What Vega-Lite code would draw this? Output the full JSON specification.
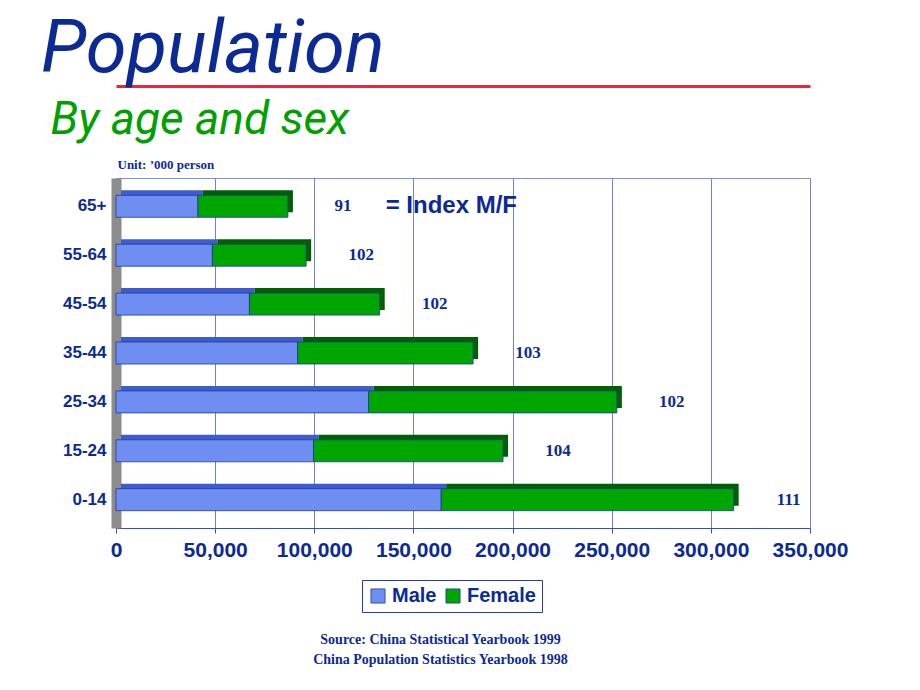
{
  "$schema": "https://vega.github.io/schema/vega-lite/v6.json",
  "width": 694,
  "height": 350,
  "autosize": {"type": "none"},
  "padding": {"left": 116, "top": 178, "right": 110, "bottom": 162},
  "background": "white",
  "title": {
    "text": "Population",
    "anchor": "start",
    "frame": "group",
    "orient": "top",
    "font": "Roboto",
    "fontStyle": "italic",
    "fontWeight": "normal",
    "fontSize": 74,
    "color": "#0c2a96",
    "dx": -75,
    "dy": 2,
    "offset": 0
  },
  "config": {
    "view": {"stroke": "#8090e0", "strokeWidth": 1}
  },
  "data": {
    "values": [
      {"age": "65+", "sex": "Male", "value": 41300, "index": 91},
      {"age": "65+", "sex": "Female", "value": 45400, "index": 91},
      {"age": "55-64", "sex": "Male", "value": 48600, "index": 102},
      {"age": "55-64", "sex": "Female", "value": 47300, "index": 102},
      {"age": "45-54", "sex": "Male", "value": 67300, "index": 102},
      {"age": "45-54", "sex": "Female", "value": 65700, "index": 102},
      {"age": "35-44", "sex": "Male", "value": 91600, "index": 103},
      {"age": "35-44", "sex": "Female", "value": 88500, "index": 103},
      {"age": "25-34", "sex": "Male", "value": 127400, "index": 102},
      {"age": "25-34", "sex": "Female", "value": 125200, "index": 102},
      {"age": "15-24", "sex": "Male", "value": 99600, "index": 104},
      {"age": "15-24", "sex": "Female", "value": 95600, "index": 104},
      {"age": "0-14", "sex": "Male", "value": 164000, "index": 111},
      {"age": "0-14", "sex": "Female", "value": 147500, "index": 111}
    ]
  },
  "encoding": {
    "y": {
      "field": "age", "type": "nominal",
      "sort": ["65+", "55-64", "45-54", "35-44", "25-34", "15-24", "0-14"],
      "scale": {"paddingInner": 0.55, "paddingOuter": 0.354},
      "axis": {
        "ticks": false, "labelPadding": 10,
        "domainColor": "#8c8c8c", "domainWidth": 10,
        "labelFont": "Liberation Sans", "labelFontWeight": "bold", "labelFontSize": 17,
        "labelColor": "#0c2a96",
        "title": "Unit: ’000 person",
        "titleAngle": 0, "titleX": 1, "titleY": -10, "titleAlign": "left",
        "titleAnchor": "start",
        "titleBaseline": "alphabetic",
        "titleFont": "Liberation Serif", "titleFontWeight": "bold", "titleFontSize": 13,
        "titleColor": "#0c2a96"
      }
    }
  },
  "resolve": {"axis": {"x": "independent"}},
  "layer": [
    {
      "mark": {"type": "bar", "xOffset": 5, "yOffset": -5},
      "encoding": {
        "x": {
          "field": "value", "type": "quantitative", "stack": "zero",
          "scale": {"domain": [0, 350000], "nice": false},
          "axis": {
            "orient": "top", "offset": 92, "domainColor": "#e8283c", "domainWidth": 3,
            "labels": false, "ticks": false, "grid": false,
            "title": "By age and sex",
            "titleX": -66, "titleY": 47, "titleAlign": "left", "titleAnchor": "start",
            "titleBaseline": "alphabetic",
            "titleFont": "Roboto", "titleFontStyle": "italic", "titleFontWeight": "normal",
            "titleFontSize": 46, "titleColor": "#00a000"
          }
        },
        "detail": {"field": "sex"},
        "order": {"field": "sex", "sort": "descending"},
        "color": {
          "condition": {"test": "datum.sex === 'Male'", "value": "#3f5ccc"},
          "value": "#005f00"
        }
      }
    },
    {
      "mark": {"type": "bar", "stroke": "#1a3aa0", "strokeWidth": 0.8},
      "encoding": {
        "x": {
          "field": "value", "type": "quantitative", "stack": "zero",
          "scale": {"domain": [0, 350000], "nice": false},
          "axis": {
            "orient": "bottom",
            "values": [0, 50000, 100000, 150000, 200000, 250000, 300000, 350000],
            "format": ",d",
            "grid": true, "gridColor": "#7080d8", "gridWidth": 1,
            "domainColor": "#3050c0", "tickColor": "#3050c0", "tickSize": 5,
            "labelFont": "Liberation Sans", "labelFontWeight": "bold", "labelFontSize": 21,
            "labelColor": "#0c2a96", "labelPadding": 6, "labelFlush": false,
            "title": ["Source: China Statistical Yearbook 1999", "China Population Statistics Yearbook 1998"],
            "titleFont": "Liberation Serif", "titleFontWeight": "bold", "titleFontSize": 14,
            "titleColor": "#0c2a96", "titleX": 324, "titleY": 104, "titleAlign": "center",
            "titleAnchor": "start", "titleBaseline": "top", "titleLineHeight": 20
          }
        },
        "order": {"field": "sex", "sort": "descending"},
        "color": {
          "field": "sex", "type": "nominal",
          "sort": ["Male", "Female"],
          "scale": {"domain": ["Male", "Female"], "range": ["#6e8ef2", "#00a600"]},
          "legend": {
            "orient": "none", "legendX": 246, "legendY": 402,
            "direction": "horizontal", "title": null,
            "strokeColor": "#2040b0", "padding": 6,
            "symbolType": "square", "symbolSize": 200,
            "symbolStrokeColor": "#1a3aa0", "symbolStrokeWidth": 0.8,
            "labelFont": "Liberation Sans", "labelFontWeight": "bold", "labelFontSize": 20,
            "labelColor": "#0c2a96", "columnPadding": 6, "labelOffset": 4
          }
        }
      }
    },
    {
      "transform": [
        {"aggregate": [{"op": "sum", "field": "value", "as": "total"}], "groupby": ["age", "index"]}
      ],
      "mark": {
        "type": "text", "dx": 55, "align": "center", "baseline": "middle",
        "font": "Liberation Serif", "fontWeight": "bold", "fontSize": 17, "color": "#0c2a96"
      },
      "encoding": {
        "x": {
          "field": "total", "type": "quantitative",
          "scale": {"domain": [0, 350000], "nice": false},
          "axis": null
        },
        "text": {"field": "index", "type": "quantitative"}
      }
    },
    {
      "transform": [
        {"filter": "datum.age === '65+' && datum.sex === 'Male'"}
      ],
      "mark": {
        "type": "text", "align": "left", "baseline": "middle",
        "font": "Liberation Sans", "fontWeight": "bold", "fontSize": 24, "color": "#0c2a96"
      },
      "encoding": {
        "x": {"datum": 136000, "type": "quantitative", "scale": {"domain": [0, 350000], "nice": false}, "axis": null},
        "text": {"value": "= Index M/F"}
      }
    }
  ]
}
